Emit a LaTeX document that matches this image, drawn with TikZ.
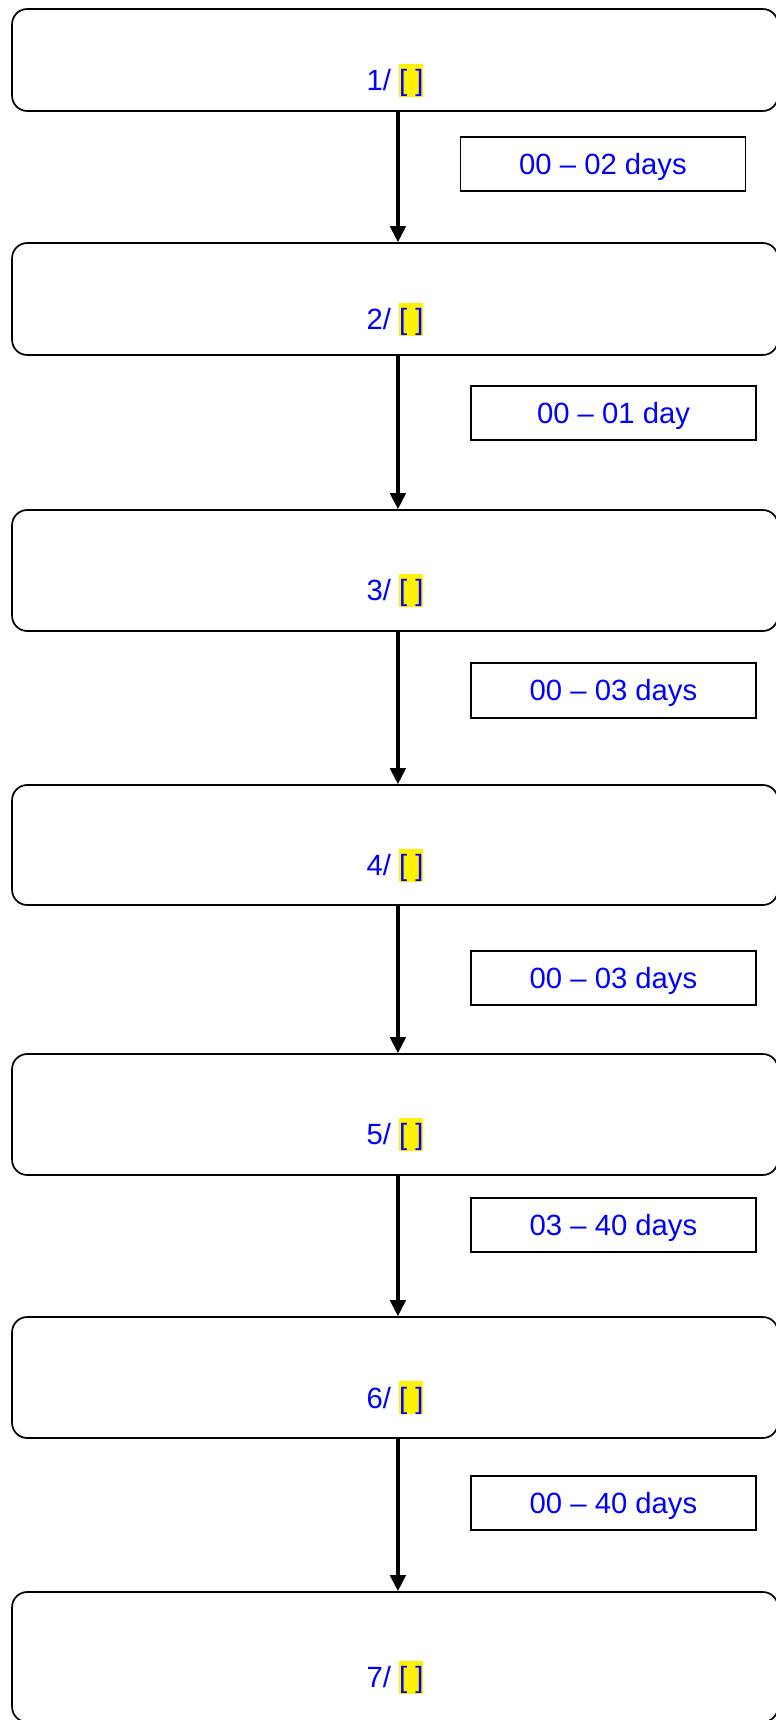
\documentclass[tikz,border=0pt]{standalone}
\usepackage{fontspec}
\setmainfont{Liberation Sans}
\usepackage{tikz}
\usetikzlibrary{arrows.meta,positioning}

\setlength{\fboxsep}{0pt}
\newcommand{\hilite}[1]{\colorbox{yellow}{\rule[-2.4pt]{0pt}{13.3pt}#1}}

\begin{document}
\begin{tikzpicture}[x=0.41pt, y=-0.41pt,
    stage/.style={draw, line width=0.7pt, rounded corners=6.2pt, minimum width=314pt,
        inner sep=0pt, text=blue, font=\fontsize{12}{14.5}\selectfont,
        text height=29.4pt, text depth=4.4pt},
    gap/.style={draw, line width=0.75pt, minimum width=116.8pt, minimum height=22.4pt,
        inner sep=0pt, text=blue, font=\fontsize{12}{14.5}\selectfont,
        text height=8.6pt, text depth=0pt},
    flow/.style={-{Triangle[length=6.6pt,width=6.4pt]}, line width=1.3pt}]
    \useasboundingbox (0,0) rectangle (775,1720);

    % stages
    \node[stage, minimum height=41.8pt] (s1) at (395, 60) {1/ \hilite{[ ]}};
    \node[stage, minimum height=45.9pt] (s2) at (395, 299) {2/ \hilite{[ ]}};
    \node[stage, minimum height=49.6pt] (s3) at (395, 570.5) {3/ \hilite{[ ]}};
    \node[stage, minimum height=49.2pt] (s4) at (395, 845) {4/ \hilite{[ ]}};
    \node[stage, minimum height=49.6pt] (s5) at (395, 1114.5) {5/ \hilite{[ ]}};
    \node[stage, minimum height=49.6pt] (s6) at (395, 1377.5) {6/ \hilite{[ ]}};
    \node[stage, minimum height=53.3pt] (s7) at (395, 1657) {7/ \hilite{[ ]}};

    % durations
    \node[gap] (d1) at (603, 164) {00 – 02 days};
    \node[gap] (d2) at (613.5, 413) {00 – 01 day};
    \node[gap] (d3) at (613.5, 690.5) {00 – 03 days};
    \node[gap] (d4) at (613.5, 978) {00 – 03 days};
    \node[gap] (d5) at (613.5, 1225) {03 – 40 days};
    \node[gap] (d6) at (613.5, 1503) {00 – 40 days};

    % arrows
    \draw[flow] ([xshift=1.2pt]s1.south) -- ([xshift=1.2pt]s2.north);
    \draw[flow] ([xshift=1.2pt]s2.south) -- ([xshift=1.2pt]s3.north);
    \draw[flow] ([xshift=1.2pt]s3.south) -- ([xshift=1.2pt]s4.north);
    \draw[flow] ([xshift=1.2pt]s4.south) -- ([xshift=1.2pt]s5.north);
    \draw[flow] ([xshift=1.2pt]s5.south) -- ([xshift=1.2pt]s6.north);
    \draw[flow] ([xshift=1.2pt]s6.south) -- ([xshift=1.2pt]s7.north);
\end{tikzpicture}
\end{document}
